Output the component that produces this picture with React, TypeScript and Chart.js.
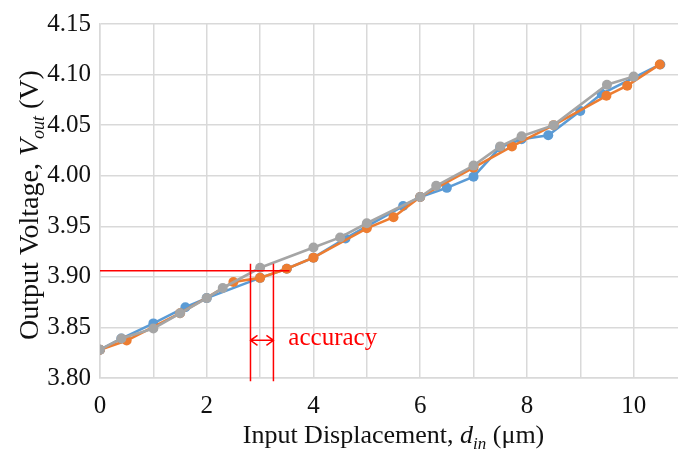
import { useEffect, useRef } from "react";
import { Chart, registerables } from "chart.js";

Chart.register(...registerables);

// ---- data ----
const blueX = [0, 0.4, 1.0, 1.6, 2.0, 3.0, 3.5, 4.0, 4.6, 5.0, 5.68, 6.0, 6.5, 7.0, 7.5, 7.9, 8.4, 9.0, 9.4, 10.5];
const blueY = [3.828, 3.839, 3.854, 3.870, 3.879, 3.899, 3.908, 3.919, 3.938, 3.950, 3.970, 3.979, 3.988, 3.999, 4.028, 4.036, 4.040, 4.064, 4.081, 4.110];

const orangeX = [0, 0.5, 1.5, 2.5, 3.0, 3.5, 4.0, 5.0, 5.5, 6.0, 7.0, 7.72, 8.5, 9.49, 9.88, 10.49];
const orangeY = [3.828, 3.837, 3.864, 3.895, 3.899, 3.908, 3.919, 3.948, 3.959, 3.979, 4.008, 4.029, 4.050, 4.079, 4.089, 4.110];

const grayX = [0, 0.4, 1.0, 1.5, 2.0, 2.3, 3.0, 4.0, 4.5, 5.0, 6.0, 6.3, 7.0, 7.5, 7.9, 8.5, 9.5, 10.0];
const grayY = [3.828, 3.839, 3.849, 3.864, 3.879, 3.889, 3.909, 3.929, 3.939, 3.953, 3.979, 3.990, 4.010, 4.029, 4.039, 4.050, 4.090, 4.098];

const xMin = 0;
const xMax = 11;
const yMin = 3.8;
const yMax = 4.15;
const yStep = 0.05;
const xStep = 1;

// accuracy annotation (data coordinates)
const accHLineX = [0, 3.55];
const accHLineY = 3.906;
const accVLinesX = [2.82, 3.25];
const accVLineY = [3.913, 3.7967];
const accArrowY = 3.8373;
const accLabel = "accuracy";
const accLabelX = 3.53;
const accLabelY = 3.8324;

const xTitleParts = ["Input Displacement, ", "d", "in", " (μm)"];
const yTitleParts = ["Output Voltage, ", "V", "out", " (V)"];

const BLUE = "#5B9BD5";
const ORANGE = "#ED7D31";
const GRAY = "#A5A5A5";
const RED = "#FF0000";
const FONT = "'Liberation Serif', 'Times New Roman', serif";

const toPts = (xs: number[], ys: number[]) => xs.map((x, i) => ({ x, y: ys[i] }));

function drawRich(ctx: CanvasRenderingContext2D, parts: string[], size: number) {
  const subSize = Math.round(size * 0.65);
  const fonts = [
    `${size}px ${FONT}`,
    `italic ${size}px ${FONT}`,
    `italic ${subSize}px ${FONT}`,
    `${size}px ${FONT}`,
  ];
  const widths = parts.map((p, i) => {
    ctx.font = fonts[i];
    return ctx.measureText(p).width;
  });
  const total = widths.reduce((a, b) => a + b, 0);
  let cx = -total / 2;
  parts.forEach((p, i) => {
    ctx.font = fonts[i];
    ctx.fillText(p, cx, i === 2 ? size * 0.22 : 0);
    cx += widths[i];
  });
}

const annotPlugin = {
  id: "annot",
  afterDatasetsDraw(chart: any) {
    const { ctx, scales } = chart;
    const x = scales.x;
    const y = scales.y;
    ctx.save();
    ctx.strokeStyle = RED;
    ctx.lineWidth = 1.5;
    ctx.beginPath();
    ctx.moveTo(x.getPixelForValue(accHLineX[0]), y.getPixelForValue(accHLineY));
    ctx.lineTo(x.getPixelForValue(accHLineX[1]), y.getPixelForValue(accHLineY));
    accVLinesX.forEach((vx) => {
      const px = x.getPixelForValue(vx);
      ctx.moveTo(px, y.getPixelForValue(accVLineY[0]));
      ctx.lineTo(px, y.getPixelForValue(accVLineY[1]));
    });
    const ax0 = x.getPixelForValue(accVLinesX[0]);
    const ax1 = x.getPixelForValue(accVLinesX[1]);
    const ay = y.getPixelForValue(accArrowY);
    ctx.moveTo(ax0, ay);
    ctx.lineTo(ax1, ay);
    ctx.moveTo(ax0 + 7, ay - 5);
    ctx.lineTo(ax0, ay);
    ctx.lineTo(ax0 + 7, ay + 5);
    ctx.moveTo(ax1 - 7, ay - 5);
    ctx.lineTo(ax1, ay);
    ctx.lineTo(ax1 - 7, ay + 5);
    ctx.stroke();
    ctx.fillStyle = RED;
    ctx.font = `25px ${FONT}`;
    ctx.textAlign = "left";
    ctx.textBaseline = "alphabetic";
    ctx.fillText(accLabel, x.getPixelForValue(accLabelX), y.getPixelForValue(accLabelY));
    ctx.restore();
  },
  afterDraw(chart: any) {
    const { ctx, chartArea } = chart;
    ctx.save();
    ctx.fillStyle = "#111";
    ctx.textAlign = "left";
    ctx.textBaseline = "alphabetic";
    // x title
    ctx.save();
    ctx.translate((chartArea.left + chartArea.right) / 2, 443);
    drawRich(ctx, xTitleParts, 26);
    ctx.restore();
    // y title
    ctx.save();
    ctx.translate(38, 205);
    ctx.rotate(-Math.PI / 2);
    drawRich(ctx, yTitleParts, 28);
    ctx.restore();
    ctx.restore();
  },
};

export default function App() {
  const ref = useRef<HTMLCanvasElement | null>(null);
  useEffect(() => {
    if (!ref.current) return;
    const mk = (data: any, color: string, order: number) => ({
      data,
      borderColor: color,
      backgroundColor: color,
      borderWidth: 2.6,
      pointRadius: 5,
      pointHoverRadius: 5,
      pointBorderWidth: 0,
      showLine: true,
      tension: 0,
      order,
    });
    const chart = new Chart(ref.current, {
      type: "scatter",
      data: {
        datasets: [
          mk(toPts(blueX, blueY), BLUE, 3),
          mk(toPts(orangeX, orangeY), ORANGE, 2),
          mk(toPts(grayX, grayY), GRAY, 1),
        ],
      },
      options: {
        animation: false,
        responsive: false,
        devicePixelRatio: 1,
        layout: { padding: { left: 0, top: 19, right: 11, bottom: 0 } },
        plugins: { legend: { display: false }, tooltip: { enabled: false } },
        scales: {
          x: {
            type: "linear",
            min: xMin,
            max: xMax,
            afterFit: (s: any) => {
              s.height = 72;
            },
            grid: { color: "#D9D9D9", lineWidth: 1.5, drawTicks: false },
            border: { color: "#D9D9D9", width: 1.5 },
            ticks: {
              stepSize: xStep,
              autoSkip: false,
              maxRotation: 0,
              padding: 13,
              color: "#111",
              font: { family: FONT, size: 25 },
              callback: (v: any) => (Number(v) % 2 === 0 && Number(v) <= 10 ? String(v) : ""),
            },
          },
          y: {
            min: yMin,
            max: yMax,
            afterFit: (s: any) => {
              s.width = 100;
            },
            grid: { color: "#D9D9D9", lineWidth: 1.5, drawTicks: false },
            border: { color: "#D9D9D9", width: 1.5 },
            ticks: {
              stepSize: yStep,
              padding: 9,
              color: "#111",
              font: { family: FONT, size: 25 },
              callback: (v: any) => Number(v).toFixed(2),
            },
          },
        },
      },
      plugins: [annotPlugin],
    });
    return () => chart.destroy();
  }, []);
  return (
    <div
      style={{
        position: "fixed",
        left: 0,
        top: 0,
        width: 678,
        height: 450,
        overflow: "hidden",
        background: "#fff",
      }}
    >
      <canvas ref={ref} width={700} height={450} style={{ width: 700, height: 450, display: "block" }} />
    </div>
  );
}
